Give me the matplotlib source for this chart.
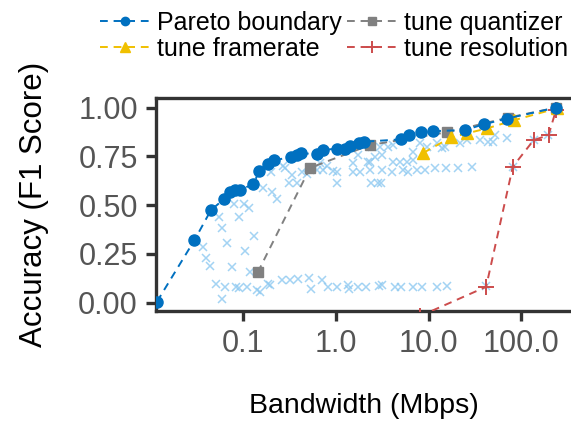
import matplotlib
matplotlib.use("Agg")
import matplotlib.pyplot as plt
import numpy as np

plt.rcParams["font.family"] = ["Liberation Sans", "DejaVu Sans"]

# every configuration tried (bandwidth in Mbps, F1 score)
all_bw = [
    0.0551, 0.0589, 0.0667, 0.0367, 0.0396, 0.0441, 0.0755, 0.105, 0.132, 0.0806,
    0.103, 0.116, 0.0912, 0.0512, 0.0640, 0.0589, 0.084, 0.0912, 0.110, 0.119,
    0.141, 0.153, 0.166, 0.187, 0.201, 0.207, 0.231, 0.195, 0.261, 0.321,
    0.395, 0.519, 0.537, 0.706, 0.832, 1.03, 1.35, 1.40, 1.75, 2.12,
    2.95, 3.13, 4.36, 5.02, 6.87, 8.47, 12.3, 16.0, 41.8,
    0.272, 0.284, 0.335, 0.316, 0.379, 0.430, 0.486, 0.624, 0.678, 0.735,
    0.800, 0.942, 1.03, 1.03, 1.55, 1.75, 2.25, 1.55, 1.83, 2.34,
    2.40, 2.88, 2.44, 3.01, 3.69, 4.18, 2.65, 3.13, 4.18, 4.94,
    5.83, 6.87, 4.02, 5.36, 6.07, 7.48, 9.19, 11.8, 15.5, 21.0,
    29.3, 3.13, 3.06, 6.87, 8.11, 9.59, 12.3, 13.9, 21.9, 25.9,
    36.0, 44.3, 15.1, 50.1, 69.9, 52.2, 136, 196, 81.1, 2.34,
]
all_acc = [
    0.438, 0.382, 0.307, 0.283, 0.227, 0.189, 0.181, 0.264, 0.343, 0.504,
    0.505, 0.485, 0.437, 0.098, 0.081, 0.018, 0.081, 0.073, 0.081, 0.158,
    0.064, 0.055, 0.586, 0.095, 0.668, 0.565, 0.531, 0.090, 0.115, 0.115,
    0.119, 0.124, 0.068, 0.115, 0.081, 0.081, 0.090, 0.069, 0.081, 0.081,
    0.086, 0.090, 0.081, 0.081, 0.081, 0.081, 0.079, 0.085, 0.085,
    0.700, 0.688, 0.654, 0.611, 0.611, 0.671, 0.657, 0.679, 0.717, 0.679,
    0.700, 0.676, 0.611, 0.671, 0.717, 0.756, 0.722, 0.671, 0.671, 0.679,
    0.611, 0.611, 0.799, 0.799, 0.799, 0.808, 0.748, 0.756, 0.722, 0.722,
    0.722, 0.731, 0.671, 0.679, 0.671, 0.679, 0.679, 0.688, 0.688, 0.688,
    0.696, 0.679, 0.611, 0.773, 0.816, 0.799, 0.816, 0.791, 0.816, 0.833,
    0.833, 0.825, 0.799, 0.825, 0.842, 0.859, 0.833, 0.859, 0.696, 0.722,
]

pareto_bw = [0.0118, 0.0299, 0.045, 0.062, 0.072, 0.081, 0.093, 0.129, 0.149, 0.187,
             0.218, 0.33, 0.38, 0.42, 0.62, 0.72, 1.03, 1.26, 1.43, 1.8,
             2.02, 5.0, 6.2, 8.3, 11.3, 24.8, 39.8, 70.5, 238]
pareto_acc = [0.005, 0.32, 0.474, 0.53, 0.565, 0.577, 0.58, 0.606, 0.674, 0.71,
              0.729, 0.748, 0.758, 0.765, 0.763, 0.782, 0.79, 0.79, 0.803, 0.816,
              0.825, 0.837, 0.857, 0.873, 0.879, 0.885, 0.915, 0.944, 1.0]

quant_bw = [0.144, 0.528, 2.34, 15.7, 71.6, 238]
quant_acc = [0.155, 0.691, 0.808, 0.873, 0.948, 1.0]

frame_bw = [8.81, 17.4, 25.9, 42.6, 84.5, 242]
frame_acc = [0.768, 0.847, 0.868, 0.893, 0.936, 0.996]

res_bw = [8.0, 41.8, 81.1, 136, 197, 238]
res_acc = [-0.07, 0.081, 0.697, 0.833, 0.859, 0.99]

BLUE = "#0070c0"
GRAY = "#808080"
YELLOW = "#f0c000"
RED = "#cc4c4c"
LIGHT = "#8cc8f0"
DARK = "#333333"

fig = plt.figure(figsize=(5.71, 4.21), dpi=100)
ax = fig.add_axes([0.273, 0.261, 0.727, 0.506])

ax.plot(all_bw, all_acc, "x", color=LIGHT, ms=6, mew=1.1, alpha=0.8, zorder=1)

dash = (0, (4, 3))
h_q, = ax.plot(quant_bw, quant_acc, ls=dash, color=GRAY, lw=1.4, marker="s", ms=7.5, zorder=2)
h_f, = ax.plot(frame_bw, frame_acc, ls=dash, color=YELLOW, lw=1.4, marker="^", ms=9, zorder=3)
h_r, = ax.plot(res_bw, res_acc, ls=dash, color=RED, lw=1.4, marker="+", ms=11, mew=1.4, zorder=3)
h_p, = ax.plot(pareto_bw, pareto_acc, ls=dash, color=BLUE, lw=1.4, marker="o", ms=8, zorder=4)

ax.set_xscale("log")
ax.set_xlim(0.01148, 344)
ax.set_ylim(-0.0436, 1.0487)
ax.set_xticks([0.1, 1, 10, 100])
ax.set_xticklabels(["0.1", "1.0", "10.0", "100.0"])
ax.minorticks_off()
ax.set_yticks([0, 0.25, 0.5, 0.75, 1.0])
ax.set_yticklabels(["0.00", "0.25", "0.50", "0.75", "1.00"])

for side in ["left", "top", "bottom"]:
    ax.spines[side].set_linewidth(2.4)
    ax.spines[side].set_color(DARK)
ax.spines["right"].set_visible(False)
ax.tick_params(axis="both", length=7, width=2.4, color=DARK, labelsize=22,
               labelcolor="#555555", pad=6)

ax.set_xlabel("Bandwidth (Mbps)", fontsize=20.5, labelpad=24)
ax.set_ylabel("Accuracy (F1 Score)", fontsize=22.5, labelpad=21)

fig.legend([h_p, h_f, h_q, h_r],
           ["Pareto boundary", "tune framerate", "tune quantizer", "tune resolution"],
           ncol=2, loc="upper right", bbox_to_anchor=(1.035, 1.028), frameon=False,
           fontsize=18, handlelength=2.0, handletextpad=0.3, columnspacing=0.2,
           labelspacing=0.1, markerscale=0.75)

fig.savefig("out.png", dpi=100)
